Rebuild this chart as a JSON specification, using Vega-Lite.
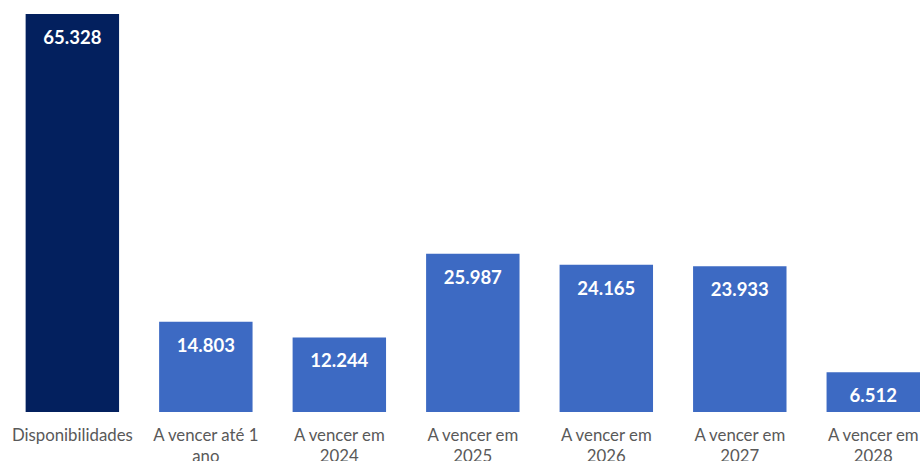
{
  "$schema": "https://vega.github.io/schema/vega-lite/v6.json",
  "width": 920,
  "height": 398,
  "autosize": {"type": "none"},
  "padding": {"top": 14, "left": 0, "right": 0, "bottom": 49},
  "background": "white",
  "config": {
    "view": {"stroke": null},
    "locale": {"number": {"decimal": ",", "thousands": ".", "grouping": [3], "currency": ["R$", ""]}}
  },
  "data": {
    "values": [
      {"categoria": "Disponibilidades", "valor": 65328, "tipo": "disp"},
      {"categoria": "A vencer até 1 ano", "valor": 14803, "tipo": "venc"},
      {"categoria": "A vencer em 2024", "valor": 12244, "tipo": "venc"},
      {"categoria": "A vencer em 2025", "valor": 25987, "tipo": "venc"},
      {"categoria": "A vencer em 2026", "valor": 24165, "tipo": "venc"},
      {"categoria": "A vencer em 2027", "valor": 23933, "tipo": "venc"},
      {"categoria": "A vencer em 2028", "valor": 6512, "tipo": "venc"}
    ]
  },
  "encoding": {
    "x": {
      "field": "categoria",
      "type": "nominal",
      "sort": null,
      "scale": {"paddingInner": 0.3, "paddingOuter": 0.096, "align": 1},
      "axis": {
        "title": null,
        "domain": false,
        "ticks": false,
        "labelAngle": 0,
        "labelFont": "Lato",
        "labelFontSize": 16.8,
        "labelColor": "#595959",
        "labelPadding": 15,
        "labelLineHeight": 21,
        "labelOverlap": false,
        "labelExpr": "indexof(datum.label, ' ') < 0 ? datum.label : [substring(datum.label, 0, lastindexof(datum.label, ' ')), substring(datum.label, lastindexof(datum.label, ' ') + 1)]"
      }
    },
    "y": {
      "field": "valor",
      "type": "quantitative",
      "scale": {"domain": [0, 65328], "nice": false},
      "axis": null
    }
  },
  "layer": [
    {
      "mark": {"type": "bar"},
      "encoding": {
        "color": {
          "field": "tipo",
          "type": "nominal",
          "scale": {"domain": ["disp", "venc"], "range": ["#03205E", "#3D6AC3"]},
          "legend": null
        }
      }
    },
    {
      "mark": {"type": "text", "baseline": "middle", "dy": 24, "font": "Lato", "fontWeight": "bold", "fontSize": 18.5, "color": "white"},
      "encoding": {
        "text": {"field": "valor", "type": "quantitative", "format": ",.0f"}
      }
    }
  ]
}
